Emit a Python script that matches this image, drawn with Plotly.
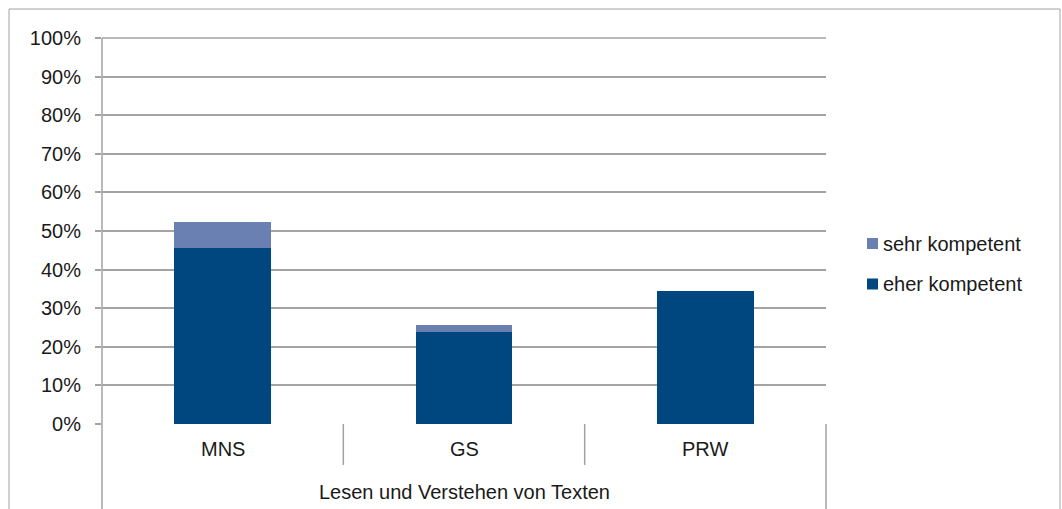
import plotly.graph_objects as go

# Kompetenz-Anteile je Gruppe (Anteil von 1)
categories = ["MNS", "GS", "PRW"]
group_label = "Lesen und Verstehen von Texten"
eher_kompetent = [0.457, 0.238, 0.345]
sehr_kompetent = [0.066, 0.018, 0.0]
series_names = ["sehr kompetent", "eher kompetent"]

DARK = "#00467F"
LIGHT = "#6A80B3"
GRID = "#A3A3A3"
TEXT = "#1A1A1A"
FONT = "Liberation Sans, Arial, Helvetica, sans-serif"
FS = 20

W, H = 1062, 509
L, R, T, B = 102, 236, 38, 85
PW, PH = W - L - R, H - T - B


def px(x):
    return (x - L) / PW


def py(y):
    return (H - B - y) / PH


fig = go.Figure()
xs = list(range(len(categories)))
fig.add_trace(go.Bar(x=xs, y=eher_kompetent, name=series_names[1],
                     marker=dict(color=DARK, line=dict(width=0)),
                     width=0.4, showlegend=False))
fig.add_trace(go.Bar(x=xs, y=sehr_kompetent, name=series_names[0],
                     marker=dict(color=LIGHT, line=dict(width=0)),
                     width=0.4, showlegend=False))

shapes = []
line = dict(color=GRID, width=1.5)
# outer frame
shapes.append(dict(type="rect", xref="paper", yref="paper",
                   x0=px(9), x1=px(1060), y0=py(520), y1=py(9),
                   line=dict(color=GRID, width=1), layer="below"))
# top gridline (100 %)
shapes.append(dict(type="line", xref="paper", yref="paper",
                   x0=0, x1=1, y0=1, y1=1, line=line, layer="below"))
# y axis line, extended into the category area
shapes.append(dict(type="line", xref="paper", yref="paper",
                   x0=0, x1=0, y0=py(520), y1=1, line=line))
# right border of the category table
shapes.append(dict(type="line", xref="paper", yref="paper",
                   x0=1, x1=1, y0=py(520), y1=0, line=line))
# separators between categories
for k in range(1, len(categories)):
    xv = k - 0.5
    shapes.append(dict(type="line", xref="x", yref="paper",
                       x0=xv, x1=xv, y0=py(465), y1=0, line=line))

annotations = []
for i, c in enumerate(categories):
    annotations.append(dict(x=i, y=py(449), xref="x", yref="paper", text=c,
                            showarrow=False, xanchor="center", yanchor="middle",
                            font=dict(size=FS, color=TEXT, family=FONT)))
annotations.append(dict(x=1, y=py(492), xref="x", yref="paper", text=group_label,
                        showarrow=False, xanchor="center", yanchor="middle",
                        font=dict(size=FS, color=TEXT, family=FONT)))

# legend
legend_items = [(series_names[0], LIGHT, 243.5), (series_names[1], DARK, 284)]
for name, col, yc in legend_items:
    shapes.append(dict(type="rect", xref="paper", yref="paper",
                       x0=px(867), x1=px(878), y0=py(yc + 5.5), y1=py(yc - 5.5),
                       fillcolor=col, line=dict(width=0)))
    annotations.append(dict(x=px(881), y=py(yc), xref="paper", yref="paper",
                            text=name, showarrow=False, xanchor="left",
                            yanchor="middle",
                            font=dict(size=FS, color=TEXT, family=FONT)))

fig.update_layout(
    width=W, height=H,
    margin=dict(l=L, r=R, t=T, b=B, pad=0),
    paper_bgcolor="white", plot_bgcolor="white",
    barmode="stack", bargap=0.6,
    showlegend=False,
    shapes=shapes, annotations=annotations,
    xaxis=dict(range=[-0.5, 2.5], showticklabels=False, showgrid=False,
               zeroline=False, showline=False, ticks="", fixedrange=True),
    yaxis=dict(range=[0, 1], dtick=0.1, tick0=0, tickformat=".0%",
               showgrid=True, gridcolor=GRID, gridwidth=1.5,
               zeroline=False, showline=False,
               ticks="outside", ticklen=6, tickcolor=GRID, tickwidth=1.5,
               ticklabelstandoff=10,
               tickfont=dict(size=FS, color=TEXT, family=FONT)),
)

fig.write_html("out.html")
